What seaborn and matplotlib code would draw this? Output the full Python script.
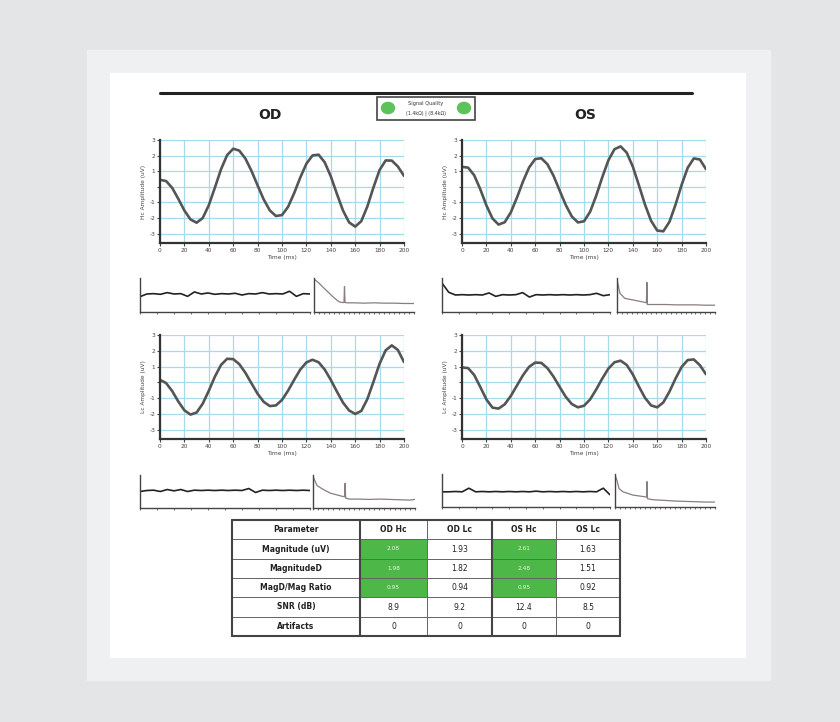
import numpy as np
import pandas as pd
import matplotlib
matplotlib.use("Agg")
import matplotlib.pyplot as plt
from matplotlib.patches import Rectangle, Circle
from matplotlib.lines import Line2D
import seaborn as sns

sns.set_style("white")
plt.rcParams['font.family'] = ['DejaVu Sans']

# ---------------- data ----------------
time_ms = list(range(0, 201, 5))
od_hc = [0.45, 0.37, -0.07, -0.77, -1.52, -2.09, -2.30, -2.00, -1.18, -0.05, 1.12, 2.03, 2.44, 2.32,
         1.81, 1.02, 0.09, -0.81, -1.51, -1.87, -1.81, -1.28, -0.40, 0.60, 1.48, 2.01, 2.06, 1.57,
         0.67, -0.45, -1.52, -2.28, -2.55, -2.20, -1.25, -0.03, 1.08, 1.69, 1.68, 1.30, 0.70]
os_hc = [1.28, 1.23, 0.74, -0.16, -1.19, -2.03, -2.42, -2.27, -1.64, -0.70, 0.34, 1.24, 1.78, 1.83,
         1.45, 0.71, -0.23, -1.16, -1.90, -2.28, -2.21, -1.60, -0.57, 0.62, 1.70, 2.41, 2.59, 2.19,
         1.30, 0.10, -1.14, -2.18, -2.80, -2.85, -2.25, -1.15, 0.12, 1.22, 1.82, 1.75, 1.13]
od_lc = [0.15, -0.05, -0.56, -1.22, -1.78, -2.05, -1.92, -1.36, -0.54, 0.36, 1.10, 1.49, 1.47, 1.15,
         0.60, -0.07, -0.73, -1.24, -1.51, -1.47, -1.12, -0.53, 0.16, 0.81, 1.26, 1.43, 1.27, 0.81,
         0.15, -0.59, -1.29, -1.79, -2.01, -1.82, -1.06, 0.04, 1.18, 2.03, 2.34, 2.05, 1.28]
os_lc = [0.94, 0.90, 0.46, -0.30, -1.09, -1.61, -1.67, -1.40, -0.87, -0.21, 0.45, 0.98, 1.25, 1.23,
         0.90, 0.36, -0.29, -0.92, -1.38, -1.59, -1.49, -1.09, -0.46, 0.24, 0.87, 1.27, 1.37, 1.10,
         0.50, -0.27, -0.99, -1.47, -1.59, -1.28, -0.60, 0.23, 0.97, 1.41, 1.45, 1.08, 0.51]

x_ticks = list(range(0, 201, 20))
y_ticks = [-3, -2, -1, 0, 1, 2, 3]
y_tick_labels = ["-3", "-2", "-1", "", "1", "2", "3"]

# raw traces (strips under each plot)
raw_t = list(range(0, 101, 4))
od_hc_raw = [0.45, 0.53, 0.54, 0.52, 0.57, 0.53, 0.54, 0.46, 0.59, 0.53, 0.56, 0.52, 0.54,
             0.53, 0.55, 0.50, 0.54, 0.53, 0.57, 0.53, 0.54, 0.53, 0.61, 0.46, 0.54, 0.53]
os_hc_raw = [0.85, 0.58, 0.50, 0.51, 0.50, 0.51, 0.50, 0.56, 0.46, 0.51, 0.50, 0.51, 0.57,
             0.44, 0.51, 0.50, 0.51, 0.50, 0.51, 0.50, 0.51, 0.50, 0.51, 0.55, 0.48, 0.51]
od_lc_raw = [0.50, 0.53, 0.54, 0.50, 0.56, 0.52, 0.56, 0.50, 0.54, 0.53, 0.54, 0.53, 0.54,
             0.53, 0.54, 0.53, 0.59, 0.47, 0.54, 0.53, 0.54, 0.53, 0.54, 0.53, 0.54, 0.53]
os_lc_raw = [0.46, 0.46, 0.47, 0.46, 0.57, 0.46, 0.47, 0.46, 0.47, 0.46, 0.47, 0.46, 0.47,
             0.46, 0.48, 0.46, 0.47, 0.46, 0.47, 0.46, 0.47, 0.46, 0.47, 0.46, 0.57, 0.37]

od_hc_dec_t = [0, 5, 10, 15, 20, 25, 28, 30, 30.5, 31, 33, 40, 50, 60, 70, 80, 90, 100]
od_hc_dec_v = [0.97, 0.85, 0.70, 0.56, 0.42, 0.30, 0.28, 0.28, 0.75, 0.28, 0.27, 0.27, 0.26, 0.27, 0.26, 0.26, 0.25, 0.25]
os_hc_dec_t = [0, 3, 8, 17, 29, 30, 30.5, 31, 40, 50, 60, 70, 80, 90, 100]
os_hc_dec_v = [0.95, 0.55, 0.40, 0.35, 0.28, 0.27, 0.87, 0.22, 0.22, 0.22, 0.21, 0.21, 0.21, 0.20, 0.20]
od_lc_dec_t = [0, 1, 4, 9, 17, 28, 31, 31.5, 32, 36, 45, 55, 65, 75, 85, 95, 100]
od_lc_dec_v = [0.97, 0.88, 0.68, 0.58, 0.45, 0.36, 0.34, 0.75, 0.30, 0.27, 0.27, 0.26, 0.27, 0.26, 0.25, 0.24, 0.26]
os_lc_dec_t = [0, 2, 4, 8, 18, 30, 31.5, 32, 32.5, 38, 50, 60, 70, 80, 90, 100]
os_lc_dec_v = [0.97, 0.80, 0.56, 0.46, 0.36, 0.31, 0.30, 0.77, 0.25, 0.22, 0.20, 0.18, 0.17, 0.16, 0.15, 0.15]

# table
table_cols = ["Parameter", "OD Hc", "OD Lc", "OS Hc", "OS Lc"]
table_params = ["Magnitude (uV)", "MagnitudeD", "MagD/Mag Ratio", "SNR (dB)", "Artifacts"]
od_hc_vals = ["2.08", "1.98", "0.95", "8.9", "0"]
od_lc_vals = ["1.93", "1.82", "0.94", "9.2", "0"]
os_hc_vals = ["2.61", "2.48", "0.95", "12.4", "0"]
os_lc_vals = ["1.63", "1.51", "0.92", "8.5", "0"]
green_rows = [0, 1, 2]

# ---------------- layout helpers ----------------
W, H = 840, 722
fig = plt.figure(figsize=(W / 100, H / 100), dpi=100, facecolor="#e4e5e7")


def rect(x0, y0, x1, y1):
    return [x0 / W, 1 - y1 / H, (x1 - x0) / W, (y1 - y0) / H]


def frect(x0, y0, x1, y1, color):
    fig.patches.append(Rectangle((x0 / W, 1 - y1 / H), (x1 - x0) / W, (y1 - y0) / H,
                                 transform=fig.transFigure, color=color, zorder=-10))


frect(87, 50, 770, 680, "#eff0f2")
frect(110, 73, 745, 657, "#ffffff")

# top black rule
fig.lines.append(Line2D([160 / W, 692 / W], [1 - 93 / H, 1 - 93 / H], transform=fig.transFigure,
                        color="#222222", lw=2.2))

fig.text(270 / W, 1 - 115 / H, "OD", ha="center", va="center", fontsize=10, fontweight="bold", color="#222")
fig.text(585 / W, 1 - 115 / H, "OS", ha="center", va="center", fontsize=10, fontweight="bold", color="#222")

# signal quality box
fig.patches.append(Rectangle((377 / W, 1 - 120 / H), 98 / W, 23 / H, transform=fig.transFigure,
                             fill=False, ec="#444444", lw=1.2))
for cx in (388, 464):
    fig.patches.append(Circle((cx / W, 1 - 108 / H), 6.5 / W, transform=fig.transFigure,
                              color="#5cc25a"))
fig.text(426 / W, 1 - 103.5 / H, "Signal Quality", ha="center", va="center", fontsize=3.6, color="#333")
fig.text(426 / W, 1 - 113 / H, "(1.4kΩ) | (8.4kΩ)", ha="center", va="center", fontsize=3.4, color="#333")

GRID = "#a6dbea"
LINE = "#555555"


def main_plot(box, vals, ylabel):
    ax = fig.add_axes(rect(*box))
    df = pd.DataFrame({"t": time_ms, "v": vals})
    sns.lineplot(data=df, x="t", y="v", ax=ax, color=LINE, lw=1.9,
                 solid_joinstyle="round", solid_capstyle="round")
    ax.set_xlim(0, 200)
    ax.set_ylim(-3.6, 3)
    ax.set_xticks(x_ticks)
    ax.set_yticks(y_ticks)
    ax.set_yticklabels(y_tick_labels)
    ax.grid(True, color=GRID, lw=0.9)
    ax.set_axisbelow(True)
    for s in ("top", "right"):
        ax.spines[s].set_visible(False)
    for s in ("left", "bottom"):
        ax.spines[s].set_color("#333333")
        ax.spines[s].set_linewidth(1.6)
    ax.tick_params(axis="both", labelsize=4.2, colors="#444444", length=2, width=0.8, pad=1.5,
                   left=True, bottom=True)
    ax.set_xlabel("Time (ms)", fontsize=4.2, color="#444444", labelpad=1.5)
    ax.set_ylabel(ylabel, fontsize=4.2, color="#444444", labelpad=2)
    return ax


main_plot((160, 140, 404, 243), od_hc, "Hc Amplitude (uV)")
main_plot((462, 140, 706, 243), os_hc, "Hc Amplitude (uV)")
main_plot((160, 335, 404, 439), od_lc, "Lc Amplitude (uV)")
main_plot((462, 335, 706, 439), os_lc, "Lc Amplitude (uV)")


def strip_axes(box, n_ticks):
    ax = fig.add_axes(rect(*box))
    ax.set_facecolor("none")
    ax.set_xlim(0, 100)
    ax.set_ylim(0, 1)
    for s in ("top", "right"):
        ax.spines[s].set_visible(False)
    for s in ("left", "bottom"):
        ax.spines[s].set_color("#444444")
        ax.spines[s].set_linewidth(1.0)
    ax.set_xticks(np.linspace(0, 100, n_ticks + 1))
    ax.set_yticks([])
    ax.tick_params(axis="x", length=1.5, width=0.6, colors="#555555", labelbottom=False, bottom=True)
    ax.set_xlabel("")
    ax.set_ylabel("")
    return ax


def strip(left_box, right_box, raw, dec_t, dec_v):
    axl = strip_axes(left_box, 10)
    sns.lineplot(x=raw_t, y=raw, ax=axl, color="#222222", lw=1.2)
    axl.set_xlim(0, 100)
    axl.set_ylim(0, 1)
    axl.set_xlabel("")
    axl.set_ylabel("")
    axr = strip_axes(right_box, 20)
    sns.lineplot(x=dec_t, y=dec_v, ax=axr, color="#8a7d7d", lw=0.9)
    axr.set_xlim(0, 100)
    axr.set_ylim(0, 1)
    axr.set_xlabel("")
    axr.set_ylabel("")


strip((140, 278, 310, 312), (314, 278, 414, 312), od_hc_raw, od_hc_dec_t, od_hc_dec_v)
strip((442, 278, 610, 312), (617, 278, 715, 312), os_hc_raw, os_hc_dec_t, os_hc_dec_v)
strip((140, 475, 310, 508), (313, 475, 415, 508), od_lc_raw, od_lc_dec_t, od_lc_dec_v)
strip((442, 474, 610, 507), (615, 474, 715, 507), os_lc_raw, os_lc_dec_t, os_lc_dec_v)

# ---------------- table ----------------
tx0, ty0, tx1, ty1 = 232, 520, 620, 636
tax = fig.add_axes(rect(tx0, ty0, tx1, ty1))
tax.axis("off")
col_px = [128, 67, 65, 64, 64]
col_w = [c / sum(col_px) for c in col_px]
cell_text = [[p, a, b, c, d] for p, a, b, c, d in zip(table_params, od_hc_vals, od_lc_vals, os_hc_vals, os_lc_vals)]
GREEN = "#4db848"
colours = []
for i in range(len(table_params)):
    row = ["white"] * 5
    if i in green_rows:
        row[1] = GREEN
        row[3] = GREEN
    colours.append(row)
tbl = tax.table(cellText=cell_text, colLabels=table_cols, cellColours=colours, colWidths=col_w,
                cellLoc="center", bbox=[0, 0, 1, 1])
tbl.auto_set_font_size(False)
tbl.set_fontsize(5.5)
for (r, c), cell in tbl.get_celld().items():
    cell.set_edgecolor("#666666")
    cell.set_linewidth(0.7)
    txt = cell.get_text()
    txt.set_color("#222222")
    if r == 0 or c == 0:
        txt.set_fontweight("bold")
    if r >= 1 and (r - 1) in green_rows and c in (1, 3):
        txt.set_color("#e8f5e6")
        txt.set_fontsize(4.2)
# thicker separators
cum = np.cumsum(col_w)
for xv in (0, cum[0], cum[2], 1):
    tax.plot([xv, xv], [0, 1], color="#444444", lw=1.5, transform=tax.transAxes, clip_on=False)
for yv in (0, 1):
    tax.plot([0, 1], [yv, yv], color="#444444", lw=1.5, transform=tax.transAxes, clip_on=False)

fig.savefig("out.png", dpi=100, facecolor=fig.get_facecolor())
